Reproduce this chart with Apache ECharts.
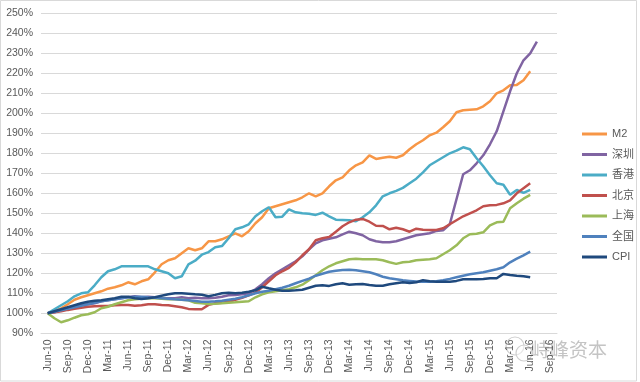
<!DOCTYPE html>
<html><head><meta charset="utf-8">
<script src="https://cdn.jsdelivr.net/npm/echarts@6/dist/echarts.min.js"></script>
<style>html,body{margin:0;padding:0;background:#fff}#c{width:640px;height:382px}</style>
</head><body><div id="c"></div>
<script>
const months = ["May-10","Jun-10","Jul-10","Aug-10","Sep-10","Oct-10","Nov-10","Dec-10",
"Jan-11","Feb-11","Mar-11","Apr-11","May-11","Jun-11","Jul-11","Aug-11","Sep-11","Oct-11","Nov-11","Dec-11",
"Jan-12","Feb-12","Mar-12","Apr-12","May-12","Jun-12","Jul-12","Aug-12","Sep-12","Oct-12","Nov-12","Dec-12",
"Jan-13","Feb-13","Mar-13","Apr-13","May-13","Jun-13","Jul-13","Aug-13","Sep-13","Oct-13","Nov-13","Dec-13",
"Jan-14","Feb-14","Mar-14","Apr-14","May-14","Jun-14","Jul-14","Aug-14","Sep-14","Oct-14","Nov-14","Dec-14",
"Jan-15","Feb-15","Mar-15","Apr-15","May-15","Jun-15","Jul-15","Aug-15","Sep-15","Oct-15","Nov-15","Dec-15",
"Jan-16","Feb-16","Mar-16","Apr-16","May-16","Jun-16","Jul-16","Aug-16","Sep-16","Oct-16"];
// values from Jun-10 to Jun-16 (index 100 = Jun-10)
const m2 = [100,101,102.5,104.5,106.8,108,109,110,111,112.3,113,114,115.5,114.5,116,117,120.5,124.5,126.5,127.5,130,132.5,131.5,132.5,136,136,137,138.5,140,138.5,141,145,148,152.5,153.5,154.5,155.5,156.5,158,160,158.5,160,163.5,166.5,168,171.5,174,175.5,179,177.2,177.8,178.3,177.8,179,182,184.5,186.5,189,190.3,193,196,200.5,201.5,201.8,202,203.5,206,210,211.5,214,214.2,216.5,221];
const shenzhen = [100,100.5,101.5,102.5,103,104,104.5,105,106,106.5,107,107.5,108,108.5,108,108.3,108,107.5,107.5,107.5,108,107.5,107.8,107.5,107.5,107.8,108.3,109,109.2,109.5,110,112,114.5,117.5,120,122,124,126,128.5,132,135,136.5,137.3,138,139.5,140.8,140,139,137,136,135.5,135.5,136,137,138,139,139.5,140,141.2,141.5,144.5,157,169.5,171.5,175,179,184.5,191,201,211,220,226.5,230,235.8];
const hongkong = [100,102,104,106,108.5,110,110.5,114,118,121,122,123.5,123.5,123.5,123.5,123.5,122,121,120,117.5,118.5,124.5,126.3,129.3,130.6,133,133.6,137.5,142,143,144.5,148.5,151,153,148,148.3,152,150.5,150,149.8,149.2,150.3,148.5,146.8,146.7,146.5,146,148,150.5,154,158.5,160,161.2,162.7,165,167.3,170.5,174,176,178,180,181.3,183,182,177.5,173.5,169,165,164.3,159.3,161.7,160.2,161.7];
const beijing = [100,100.5,101,101.7,102.3,102.8,103.3,103.5,103.7,103.7,104,104.2,104.2,103.8,104,104.5,104.5,104.2,104,103.5,103,102.2,102,102,104.2,105,105.3,105.8,106.8,107.7,109,110.3,113,116,119,121,122.7,125.5,129,132,136.5,137.5,138.2,140.8,143.5,145.5,146.8,147.2,145.8,143.8,143.7,142,142.8,142,140.8,142.3,141.8,141.7,141.7,142.5,144.5,146.5,148.5,150,151.5,153.5,154,154.2,155,156.5,160,162.5,165];
const shanghai = [100,97.5,95.5,96.5,97.8,99,99.5,100.5,102.5,103.3,104.5,105.5,106.5,107,107.3,107.5,107.5,107.3,107,107,106.8,106.5,105.3,105,104.7,104.8,105,105.3,105.5,105.8,106,108,109.5,110.5,111,111.5,112,113,114.3,116.5,119,121.5,123.5,125,126,127,127.3,127,127,127,126.5,125.5,124.7,125.5,125.8,126.5,126.8,127,127.5,129.5,131.5,134,137.5,139.5,139.8,140.5,144,145.5,145.8,152.5,155,157.3,159.2];
const national = [100,100.8,101.5,102.3,103,103.8,104.5,105.3,106,106.5,107,107.5,108,108.3,108.3,108,107.8,107.5,107.3,107,106.8,106.5,106.2,105.8,105.8,106,106.3,106.8,107.3,108,109,110,110.8,111.3,112,112.8,113.8,115,116.2,117.3,118.8,119.8,120.8,121.3,121.7,121.8,121.5,121,120.5,119.5,118.3,117.5,117,116.5,116.2,115.9,115.8,115.8,116,116.5,117.2,118,118.8,119.5,120,120.5,121.3,122,123,125.5,127.3,129,130.8];
const cpi = [100,101,102,103,104,105,105.8,106.3,106.5,107,107.5,108.3,108.3,107.5,107.2,107.5,108,108.8,109.5,110,110,109.8,109.5,109.3,108.5,109.2,110,110.3,110,110.3,110.8,111.5,113.3,112.5,111.8,111.3,111.3,111.5,111.8,112.8,113.8,114,113.7,114.5,115,114.3,114.5,114.7,114.2,113.8,113.8,114.5,115,115.5,115.2,115.5,116.5,116,115.8,115.8,115.8,116.2,117,117,117,117.2,117.5,117.5,119.7,119.2,118.8,118.5,118];
const names = ["M2","深圳","香港","北京","上海","全国","CPI"];
const colors = ["#F79646","#8064A2","#4BACC6","#C0504D","#9BBB59","#4F81BD","#1F497D"];
const seriesVals = [m2, shenzhen, hongkong, beijing, shanghai, national, cpi];
const yMin = 90, yMax = 250, yStep = 10;

const font = "'Liberation Sans','Noto Sans CJK SC',sans-serif";
const chart = echarts.init(document.getElementById('c'), null, {renderer:'canvas'});
chart.setOption({
  animation:false,
  backgroundColor:'#fff',
  textStyle:{fontFamily:font},
  grid:{left:41,right:83,top:13.3,bottom:48.7,containLabel:false},
  xAxis:{type:'category',data:months,boundaryGap:false,
    axisLine:{lineStyle:{color:'#d9d9d9',width:1}},
    axisTick:{show:false},
    axisLabel:{rotate:90,margin:6,color:'#595959',fontSize:10.5,fontFamily:font,
      interval:(i,v)=>/^(Mar|Jun|Sep|Dec)/.test(v)},
    splitLine:{show:false}},
  yAxis:{type:'value',min:yMin,max:yMax,interval:yStep,
    axisLine:{show:false},axisTick:{show:false},
    axisLabel:{formatter:'{value}%',color:'#595959',fontSize:10.5,margin:8,fontFamily:font},
    splitLine:{lineStyle:{color:'#d9d9d9',width:1}}},
  legend:{orient:'vertical',left:577,top:122,itemWidth:25,itemHeight:3,itemGap:6.5,icon:'rect',
    textStyle:{color:'#595959',fontSize:11,lineHeight:14,fontFamily:font},data:names},
  series: seriesVals.map((vals,k)=>({
    name:names[k],type:'line',showSymbol:false,symbol:'none',smooth:false,
    lineStyle:{width:2.5,color:colors[k]},itemStyle:{color:colors[k]},
    data: vals.map((v,i)=>[i+1,v])
  })),
  graphic:[
    {type:'rect',shape:{x:0.5,y:0.5,width:636,height:380.5},style:{fill:'none',stroke:'#d9d9d9',lineWidth:1},silent:true},
    {type:'circle',shape:{cx:515,cy:346,r:9},style:{fill:'none',stroke:'#cfcfcf',lineWidth:1.2},silent:true},
    {type:'circle',shape:{cx:524,cy:353,r:8},style:{fill:'rgba(255,255,255,0.5)',stroke:'#cfcfcf',lineWidth:1.2},silent:true},
    {type:'text',left:531,top:340,style:{text:'峙峰资本',fill:'#c4c4c4',fontSize:19,fontFamily:"'Noto Sans CJK SC',sans-serif"},silent:true}
  ]
});
</script></body></html>
